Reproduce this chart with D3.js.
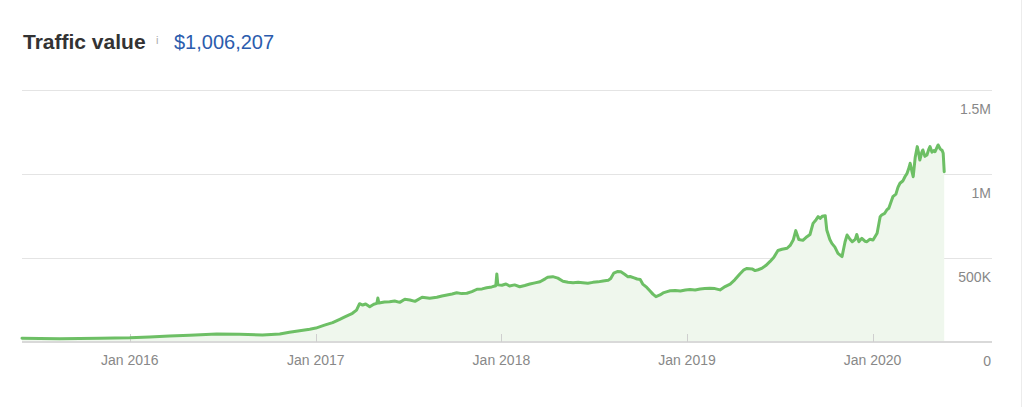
<!DOCTYPE html>
<html>
<head>
<meta charset="utf-8">
<script src="https://cdn.jsdelivr.net/npm/d3@7"></script>
<style>
  html, body { margin: 0; padding: 0; background: #fff; }
  svg { display: block; font-family: "Liberation Sans", Arial, Helvetica, sans-serif; }
</style>
</head>
<body>
<svg id="chart" width="1024" height="407"></svg>
<script>
// ---- data ----
const titleText = "Traffic value";
const totalText = "$1,006,207";

const dates = [
  "2015-06-03","2015-07-08","2015-08-16","2015-09-24","2015-11-03","2015-12-02",
  "2016-01-01","2016-02-09","2016-03-19","2016-04-28","2016-06-20","2016-08-04",
  "2016-09-18","2016-10-22","2016-11-10","2016-11-30","2016-12-20","2017-01-01",
  "2017-01-18","2017-02-03","2017-02-17","2017-02-27","2017-03-14","2017-03-22",
  "2017-03-28","2017-04-03","2017-04-09","2017-04-17","2017-04-25","2017-05-01",
  "2017-05-03","2017-05-05","2017-05-16","2017-05-26","2017-06-05","2017-06-15",
  "2017-06-25","2017-07-05","2017-07-15","2017-07-29","2017-08-13","2017-08-27",
  "2017-09-06","2017-09-16","2017-09-26","2017-10-05","2017-10-15","2017-10-25",
  "2017-11-04","2017-11-14","2017-11-24","2017-12-03","2017-12-13","2017-12-19",
  "2017-12-21","2017-12-23","2017-12-25","2018-01-02","2018-01-10","2018-01-17",
  "2018-01-27","2018-02-06","2018-02-16","2018-02-26","2018-03-08","2018-03-18",
  "2018-03-28","2018-04-02","2018-04-12","2018-04-22","2018-05-02","2018-05-12",
  "2018-05-22","2018-06-01","2018-06-10","2018-06-20","2018-06-30","2018-07-10",
  "2018-07-20","2018-07-30","2018-08-04","2018-08-10","2018-08-18","2018-08-24",
  "2018-09-01","2018-09-07","2018-09-11","2018-09-19","2018-09-25","2018-10-01",
  "2018-10-06","2018-10-14","2018-10-20","2018-10-26","2018-11-01","2018-11-09",
  "2018-11-15","2018-11-23","2018-11-29","2018-12-09","2018-12-19","2018-12-29",
  "2019-01-07","2019-01-17","2019-01-27","2019-02-05","2019-02-15","2019-02-25",
  "2019-03-07","2019-03-17","2019-03-27","2019-04-05","2019-04-15","2019-04-23",
  "2019-04-29","2019-05-09","2019-05-15","2019-05-21","2019-05-29","2019-06-05",
  "2019-06-13","2019-06-21","2019-06-29","2019-07-07","2019-07-17","2019-07-23",
  "2019-07-29","2019-08-03","2019-08-09","2019-08-17","2019-08-25","2019-08-31",
  "2019-09-06","2019-09-12","2019-09-16","2019-09-20","2019-09-24","2019-09-30",
  "2019-10-03","2019-10-09","2019-10-13","2019-10-19","2019-10-25","2019-11-02",
  "2019-11-08","2019-11-12","2019-11-18","2019-11-22","2019-11-28","2019-12-01",
  "2019-12-05","2019-12-11","2019-12-17","2019-12-21","2019-12-27","2020-01-02",
  "2020-01-10","2020-01-16","2020-01-19","2020-01-25","2020-01-29","2020-02-02",
  "2020-02-06","2020-02-10","2020-02-16","2020-02-20","2020-02-24","2020-03-01",
  "2020-03-05","2020-03-09","2020-03-13","2020-03-15","2020-03-19","2020-03-21",
  "2020-03-25","2020-03-29","2020-04-01","2020-04-03","2020-04-07","2020-04-09",
  "2020-04-13","2020-04-17","2020-04-21","2020-04-23","2020-04-27","2020-05-01",
  "2020-05-03","2020-05-07","2020-05-09","2020-05-13","2020-05-17","2020-05-19",
  "2020-05-21"
];

// traffic value in thousands of dollars
const values = [
  22,21,20,21,22,24,
  25,30,36,40,48,46,
  42,48,58,67,76,83,
  100,115,135,150,171,190,
  228,220,226,210,225,230,
  262,232,238,240,244,236,
  254,250,242,266,260,266,
  274,280,286,293,288,290,
  300,314,316,323,328,333,
  335,405,340,338,345,333,
  340,329,336,345,352,359,
  376,385,389,380,362,356,
  353,355,353,350,355,358,
  363,367,378,410,420,418,
  402,388,390,382,375,372,
  345,325,305,285,270,280,
  292,300,305,307,304,310,
  312,310,316,318,320,318,
  310,330,345,370,405,430,
  438,435,425,430,440,455,
  478,505,545,552,558,575,
  607,663,610,605,627,640,
  706,728,746,736,748,752,
  667,610,587,565,528,508,
  597,637,610,597,611,640,
  597,617,600,597,612,607,
  647,746,756,766,786,796,
  830,865,880,920,945,960,
  985,1004,1040,1064,1010,984,
  1100,1163,1120,1083,1130,1143,
  1105,1113,1150,1163,1130,1140,
  1133,1160,1173,1150,1140,1123,
  1014
];

const yTickValues = [0, 500000, 1000000, 1500000];
const yTickLabels = ["0", "500K", "1M", "1.5M"];
const xDomain = ["2015-06-03", "2020-08-23"];

// ---- chart ----
(function () {
const parse = d3.timeParse("%Y-%m-%d");
const data = dates.map((d, i) => ({ date: parse(d), value: values[i] * 1000 }));

const svg = d3.select("#chart");
const mLeft = 22, mRight = 992, mTop = 90, mBottom = 342;

const x = d3.scaleTime().domain(xDomain.map(parse)).range([mLeft, mRight]);
const y = d3.scaleLinear().domain([0, 1500000]).range([mBottom, mTop]);

// right card border
svg.append("line")
  .attr("x1", 1021.5).attr("x2", 1021.5).attr("y1", 0).attr("y2", 407)
  .attr("stroke", "#ececec").attr("stroke-width", 1);

// title
svg.append("text")
  .attr("x", 23).attr("y", 49)
  .attr("font-size", 21).attr("font-weight", "bold")
  .attr("fill", "#333")
  .text(titleText);
svg.append("text")
  .attr("x", 156).attr("y", 44)
  .attr("font-size", 11).attr("fill", "#aaa")
  .text("i");
svg.append("text")
  .attr("x", 174).attr("y", 49)
  .attr("font-size", 20).attr("fill", "#2b5cad")
  .text(totalText);

// gridlines
svg.append("g").selectAll("line")
  .data(yTickValues.filter(v => v > 0))
  .join("line")
  .attr("x1", mLeft).attr("x2", mRight)
  .attr("y1", d => Math.round(y(d)) + 0.5).attr("y2", d => Math.round(y(d)) + 0.5)
  .attr("stroke", "#e4e4e4").attr("stroke-width", 1);

// area
const area = d3.area()
  .x(d => x(d.date)).y0(y(0)).y1(d => y(d.value))
  .curve(d3.curveLinear);
svg.append("path").datum(data)
  .attr("d", area)
  .attr("fill", "#eff7ed");

// baseline
svg.append("line")
  .attr("x1", mLeft).attr("x2", mRight)
  .attr("y1", y(0)).attr("y2", y(0))
  .attr("stroke", "#d9d9d9").attr("stroke-width", 2);

// x axis ticks
const xTicks = x.ticks(d3.timeYear.every(1));
const xg = svg.append("g");
xg.selectAll("line").data(xTicks).join("line")
  .attr("x1", d => Math.round(x(d)) + 0.5).attr("x2", d => Math.round(x(d)) + 0.5)
  .attr("y1", y(0)).attr("y2", y(0) - 8)
  .attr("stroke", "#cfcfcf").attr("stroke-width", 1);
xg.selectAll("text").data(xTicks).join("text")
  .attr("x", d => x(d)).attr("y", 365)
  .attr("text-anchor", "middle")
  .attr("font-size", 14).attr("fill", "#888")
  .text(d3.timeFormat("Jan %Y"));

// y labels
svg.append("g").selectAll("text")
  .data(yTickValues).join("text")
  .attr("x", 991).attr("y", d => y(d) + 24)
  .attr("text-anchor", "end")
  .attr("font-size", 14).attr("fill", "#888")
  .text((d, i) => yTickLabels[i]);

// line
const line = d3.line()
  .x(d => x(d.date)).y(d => y(d.value))
  .curve(d3.curveLinear);
svg.append("path").datum(data)
  .attr("d", line)
  .attr("fill", "none")
  .attr("stroke", "#6dbf65")
  .attr("stroke-width", 3)
  .attr("stroke-linejoin", "round")
  .attr("stroke-linecap", "round");
})();
</script>
</body>
</html>
